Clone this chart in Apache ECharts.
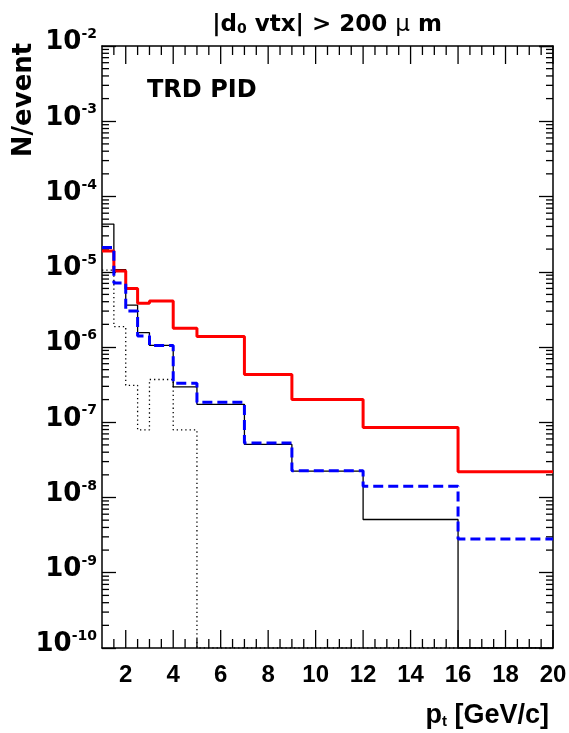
<!DOCTYPE html>
<html>
<head>
<meta charset="utf-8">
<script src="https://cdn.jsdelivr.net/npm/echarts@6/dist/echarts.min.js"></script>
<style>
  html, body { margin: 0; padding: 0; background: #fff; }
  #chart { width: 569px; height: 733px; }
</style>
</head>
<body>
<div id="chart"></div>
<script>
// bin edges in pt [GeV/c]
var binEdges = [1, 1.5, 2, 2.5, 3, 4, 5, 7, 9, 12, 16, 20];
// N/event per bin (0 = empty bin)
var redVals    = [1.88e-5, 1.02e-5, 6.0e-6, 3.8e-6, 4.1e-6, 1.77e-6, 1.38e-6, 4.3e-7, 2.0e-7, 8.5e-8, 2.2e-8];
var blueVals   = [2.1e-5, 7.1e-6, 3.0e-6, 1.4e-6, 1.05e-6, 3.3e-7, 1.85e-7, 5.3e-8, 2.27e-8, 1.41e-8, 2.8e-9];
var blackVals  = [4.3e-5, 1.07e-5, 3.6e-6, 1.55e-6, 1.05e-6, 2.95e-7, 1.73e-7, 5.07e-8, 2.24e-8, 5.1e-9, 0];
var dottedVals = [1.05e-5, 1.86e-6, 3.1e-7, 7.9e-8, 3.7e-7, 7.9e-8, 0, 0, 0, 0, 0];

var xMin = 1, xMax = 20;
var yMin = 1e-10, yMax = 1e-2;
// tick positions
var xMajorTicks = [2, 4, 6, 8, 10, 12, 14, 16, 18, 20];
var xMinorTicks = [1.5, 2.5, 3, 3.5, 4.5, 5, 5.5, 6.5, 7, 7.5, 8.5, 9, 9.5, 10.5, 11, 11.5,
                   12.5, 13, 13.5, 14.5, 15, 15.5, 16.5, 17, 17.5, 18.5, 19, 19.5];
var decades = [-10, -9, -8, -7, -6, -5, -4, -3];
var minorSteps = [2, 3, 4, 5, 6, 7, 8, 9];

var tickData = [];
xMajorTicks.forEach(function (v) { tickData.push(['x', v, 18]); });
xMinorTicks.forEach(function (v) { tickData.push(['x', v, 9]); });
decades.forEach(function (d) {
  minorSteps.forEach(function (m) {
    tickData.push(['y', m * Math.pow(10, d), 7]);
  });
});

function histData(vals) {
  // zero bins are drawn down to the bottom of the frame, like ROOT does
  var out = vals.map(function (v, i) {
    return [binEdges[i], v > 0 ? v : yMin];
  });
  var last = vals[vals.length - 1];
  out.push([binEdges[binEdges.length - 1], last > 0 ? last : yMin]);
  return out;
}

var chart = echarts.init(document.getElementById('chart'), null, { renderer: 'canvas' });

var fontX = 'Liberation Sans, Arial, sans-serif';
var fontY = 'DejaVu Sans, sans-serif';

function yAxisCfg(pos) {
  var cfg = {
    type: 'log',
    logBase: 10,
    position: pos,
    min: yMin,
    max: yMax,
    splitNumber: 8,
    axisLine: { show: true, onZero: false, lineStyle: { color: '#000', width: 1.5 } },
    axisTick: { show: true, inside: true, length: 14, lineStyle: { color: '#000', width: 1.3 } },
    splitLine: { show: false },
    axisLabel: { show: false }
  };
  if (pos === 'left') {
    cfg.axisLabel = {
      show: true,
      margin: 5,
      padding: [0, 0, 7, 0],
      formatter: function (v) {
        var e = Math.round(Math.log10(v));
        return '{b|10}{e|' + e + '}';
      },
      rich: {
        b: { fontFamily: fontY, fontWeight: 'bold', fontSize: 26, lineHeight: 30, color: '#000' },
        e: { fontFamily: fontY, fontWeight: 'bold', fontSize: 14, lineHeight: 14, verticalAlign: 'top', color: '#000' }
      }
    };
  }
  return cfg;
}

var option = {
  animation: false,
  backgroundColor: '#fff',
  grid: { left: 102, right: 16, top: 46, bottom: 85, containLabel: false, outerBoundsMode: 'none' },
  xAxis: [
    {
      type: 'value',
      position: 'bottom',
      min: xMin,
      max: xMax,
      splitNumber: 10,
      axisLine: { show: true, onZero: false, lineStyle: { color: '#000', width: 1.5 } },
      axisTick: { show: false },
      splitLine: { show: false },
      axisLabel: {
        margin: 15,
        color: '#000',
        fontFamily: fontX,
        fontWeight: 'bold',
        fontSize: 24,
        formatter: function (v) { return v % 2 === 0 ? String(v) : ''; }
      }
    },
    {
      type: 'value',
      position: 'top',
      min: xMin,
      max: xMax,
      axisLine: { show: true, onZero: false, lineStyle: { color: '#000', width: 1.5 } },
      axisTick: { show: false },
      splitLine: { show: false },
      axisLabel: { show: false }
    }
  ],
  yAxis: [
    yAxisCfg('left'),
    yAxisCfg('right')
  ],
  graphic: [
    {
      type: 'text',
      x: 327, y: 25,
      style: {
        text: '{t||d}{s|0}{t| vtx| > 200 }{m|\u03bc}{t| m}',
        align: 'center',
        verticalAlign: 'middle',
        rich: {
          t: { fontFamily: fontY, fontWeight: 'bold', fontSize: 23, lineHeight: 23, fill: '#000' },
          s: { fontFamily: fontY, fontWeight: 'bold', fontSize: 14, lineHeight: 14, padding: [30, 0, 0, 0], verticalAlign: 'bottom', fill: '#000' },
          m: { fontFamily: fontY, fontWeight: 'normal', fontSize: 23, lineHeight: 23, fill: '#000' }
        }
      }
    },
    {
      type: 'text',
      x: 147, y: 91,
      style: {
        text: 'TRD PID',
        fontFamily: fontY, fontWeight: 'bold', fontSize: 24,
        fill: '#000', align: 'left', verticalAlign: 'middle'
      }
    },
    {
      type: 'text',
      x: 24, y: 100,
      rotation: Math.PI / 2,
      style: {
        text: 'N/event',
        fontFamily: fontY, fontWeight: 'bold', fontSize: 26,
        fill: '#000', align: 'center', verticalAlign: 'middle'
      }
    },
    {
      type: 'text',
      x: 549, y: 716,
      style: {
        text: '{t|p}{s|t}{t| [GeV/c]}',
        align: 'right',
        verticalAlign: 'middle',
        rich: {
          t: { fontFamily: fontX, fontWeight: 'bold', fontSize: 27, lineHeight: 27, fill: '#000' },
          s: { fontFamily: fontX, fontWeight: 'bold', fontSize: 15, lineHeight: 15, padding: [16, 0, 0, 0], verticalAlign: 'bottom', fill: '#000' }
        }
      }
    }
  ],
  series: [
    {
      name: 'ticks',
      type: 'custom',
      xAxisIndex: 0,
      yAxisIndex: 0,
      silent: true,
      clip: false,
      data: tickData,
      renderItem: function (params, api) {
        var item = tickData[params.dataIndex];
        var len = item[2];
        var st = { stroke: '#000', lineWidth: 1.3 };
        var a, b;
        if (item[0] === 'x') {
          a = api.coord([item[1], yMin]);
          b = api.coord([item[1], yMax]);
          return {
            type: 'group',
            children: [
              { type: 'line', shape: { x1: a[0], y1: a[1], x2: a[0], y2: a[1] - len }, style: st },
              { type: 'line', shape: { x1: b[0], y1: b[1], x2: b[0], y2: b[1] + len }, style: st }
            ]
          };
        }
        a = api.coord([xMin, item[1]]);
        b = api.coord([xMax, item[1]]);
        return {
          type: 'group',
          children: [
            { type: 'line', shape: { x1: a[0], y1: a[1], x2: a[0] + len, y2: a[1] }, style: st },
            { type: 'line', shape: { x1: b[0], y1: b[1], x2: b[0] - len, y2: b[1] }, style: st }
          ]
        };
      }
    },
    {
      name: 'black',
      type: 'line',
      step: 'end',
      symbol: 'none',
      data: histData(blackVals),
      lineStyle: { color: '#000', width: 1.3 }
    },
    {
      name: 'dotted',
      type: 'line',
      step: 'end',
      symbol: 'none',
      data: histData(dottedVals),
      lineStyle: { color: '#000', width: 1.3, type: [1.3, 3] }
    },
    {
      name: 'red',
      type: 'line',
      step: 'end',
      symbol: 'none',
      data: histData(redVals),
      lineStyle: { color: '#ff0000', width: 3 }
    },
    {
      name: 'blue',
      type: 'line',
      step: 'end',
      symbol: 'none',
      data: histData(blueVals),
      lineStyle: { color: '#0000ff', width: 3, type: [10, 5] }
    }
  ]
};

chart.setOption(option);
</script>
</body>
</html>
